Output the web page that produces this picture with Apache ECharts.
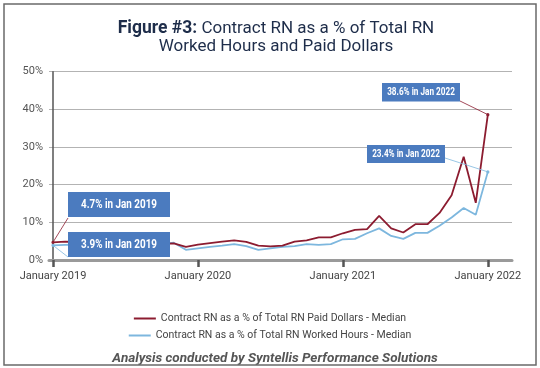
<!DOCTYPE html>
<html>
<head>
<meta charset="utf-8">
<script src="https://cdn.jsdelivr.net/npm/echarts@6/dist/echarts.min.js"></script>
<style>
html,body{margin:0;padding:0;background:#fff;}
#c{width:540px;height:368px;}
</style>
</head>
<body>
<div id="c"></div>
<script>
// Months from January 2019 to January 2022 (index 0..36)
var months = ['Jan 2019','Feb 2019','Mar 2019','Apr 2019','May 2019','Jun 2019','Jul 2019','Aug 2019','Sep 2019','Oct 2019','Nov 2019','Dec 2019',
  'Jan 2020','Feb 2020','Mar 2020','Apr 2020','May 2020','Jun 2020','Jul 2020','Aug 2020','Sep 2020','Oct 2020','Nov 2020','Dec 2020',
  'Jan 2021','Feb 2021','Mar 2021','Apr 2021','May 2021','Jun 2021','Jul 2021','Aug 2021','Sep 2021','Oct 2021','Nov 2021','Dec 2021',
  'Jan 2022'];
var paidDollars = [4.7,4.9,4.8,4.6,4.5,4.4,4.5,4.3,4.2,4.3,4.4,3.5,
  4.1,4.5,4.9,5.2,4.8,3.8,3.6,3.8,4.9,5.2,6.0,6.0,
  7.1,8.0,8.2,11.7,8.4,7.3,9.5,9.5,12.5,17.2,27.4,15.2,
  38.6];
var workedHours = [3.9,4.0,4.1,4.0,3.9,3.8,3.9,3.8,3.9,4.2,4.6,2.7,
  3.1,3.5,3.8,4.2,3.7,2.7,3.1,3.5,3.7,4.2,4.0,4.2,
  5.5,5.6,7.1,8.4,6.4,5.6,7.2,7.2,9.1,11.3,13.8,12.0,
  23.4];
var xTickIndex = [0,12,24,36];
var xTickLabels = ['January 2019','January 2020','January 2021','January 2022'];
var yTicks = [0,10,20,30,40,50];
var seriesNames = ['Contract RN as a % of Total RN Paid Dollars - Median','Contract RN as a % of Total RN Worked Hours - Median'];
var annotations = [
  {text:'4.7% in Jan 2019', series:0, idx:0},
  {text:'3.9% in Jan 2019', series:1, idx:0},
  {text:'38.6% in Jan 2022', series:0, idx:36},
  {text:'23.4% in Jan 2022', series:1, idx:36}
];

var RED = '#8c1c30', BLUE = '#7db7de', BOX = '#4b7bbf';
function pairs(arr){ return arr.map(function(v,i){ return [i,v]; }); }

var chart = echarts.init(document.getElementById('c'), null, {renderer:'canvas'});
var option = {
  backgroundColor:'#fff',
  animation:false,
  title:[{
    text:'{b|Figure #3:} Contract RN as a % of Total RN\nWorked Hours and Paid Dollars',
    left:271, top:15, textAlign:'center',
    textStyle:{fontSize:17, fontWeight:'normal', color:'#1e2d4a', fontFamily:'Roboto', lineHeight:18,
      rich:{b:{fontSize:17.5, fontWeight:'bold', color:'#1e2d4a', fontFamily:'Roboto', lineHeight:18}}}
  },{
    text:'Analysis conducted by Syntellis Performance Solutions',
    left:270, top:347, textAlign:'center',
    textStyle:{fontSize:13.5, fontWeight:'bold', fontStyle:'italic', color:'#555', fontFamily:'Roboto'}
  }],
  legend:[{
    data:[seriesNames[0]], left:'center', top:308, icon:'rect', itemWidth:22, itemHeight:2, itemGap:6,
    textStyle:{fontSize:10.5, color:'#444', fontFamily:'Roboto'}
  },{
    data:[seriesNames[1]], left:'center', top:325, icon:'rect', itemWidth:22, itemHeight:2, itemGap:6,
    textStyle:{fontSize:10.5, color:'#444', fontFamily:'Roboto'}
  }],
  grid:{left:49, right:28, top:71.7, bottom:108, containLabel:false},
  xAxis:{
    type:'value', min:-0.33, max:38,
    axisLine:{show:true, lineStyle:{color:'#9a9a9a', width:3}},
    axisTick:{show:true, customValues:xTickIndex, length:7, lineStyle:{color:'#555', width:2.5}},
    axisLabel:{customValues:xTickIndex, margin:11, fontSize:11, color:'#444', fontFamily:'Roboto',
      formatter:function(v){ var k = xTickIndex.indexOf(Math.round(v)); return k>=0 ? xTickLabels[k] : ''; }},
    splitLine:{show:false}, z:5
  },
  yAxis:{
    type:'value', min:yTicks[0], max:yTicks[yTicks.length-1], interval:10,
    axisLine:{show:true, lineStyle:{color:'#555', width:1.5}},
    axisTick:{show:false},
    axisLabel:{formatter:'{value}%', fontSize:11, color:'#555', margin:6, fontFamily:'Roboto'},
    splitLine:{show:true, lineStyle:{color:'#b3b3b3', width:1}}
  },
  series:[{
    name:seriesNames[0], type:'line', data:pairs(paidDollars), showSymbol:false, symbol:'none',
    lineStyle:{color:RED, width:1.8}, itemStyle:{color:RED}, z:4
  },{
    name:seriesNames[1], type:'line', data:pairs(workedHours), showSymbol:false, symbol:'none',
    lineStyle:{color:BLUE, width:1.8}, itemStyle:{color:BLUE}, z:3
  }]
};
chart.setOption(option);

// Annotation boxes with leader lines to the data points
var boxes = [
  {x:68, y:192, w:102, h:25, fs:13, sx:0.76, lx:68, ly:218},
  {x:68, y:232, w:102, h:25, fs:13, sx:0.76, lx:68, ly:257},
  {x:382, y:83, w:78, h:18.5, fs:10.5, sx:0.78, lx:460, ly:101},
  {x:367, y:145, w:78, h:18, fs:10.5, sx:0.78, lx:445, ly:158}
];
var dataSets = [paidDollars, workedHours];
var colors = [RED, BLUE];
var g = [{type:'rect', shape:{x:4, y:4, width:532, height:361}, style:{fill:'none', stroke:'#6a6a6a', lineWidth:1.5}, z:100}];
annotations.forEach(function(a, i){
  var b = boxes[i];
  var p = chart.convertToPixel({gridIndex:0}, [a.idx, dataSets[a.series][a.idx]]);
  g.push({type:'line', shape:{x1:b.lx, y1:b.ly, x2:p[0], y2:p[1]}, style:{stroke:colors[a.series], lineWidth:0.8}, z:90});
  g.push({type:'circle', shape:{cx:p[0], cy:p[1], r:1.6}, style:{fill:colors[a.series]}, z:91});
  g.push({type:'rect', shape:{x:b.x, y:b.y, width:b.w, height:b.h}, style:{fill:BOX}, z:95});
  g.push({type:'group', x:b.x + b.w/2, y:b.y + b.h/2 + 0.5, z:96, children:[{
    type:'text', x:0, y:0, scaleX:b.sx, z:96,
    style:{text:a.text, fill:'#fff', font:'bold ' + b.fs + 'px Roboto, sans-serif', align:'center', verticalAlign:'middle'}
  }]});
});
chart.setOption({graphic:g});
</script>
</body>
</html>
